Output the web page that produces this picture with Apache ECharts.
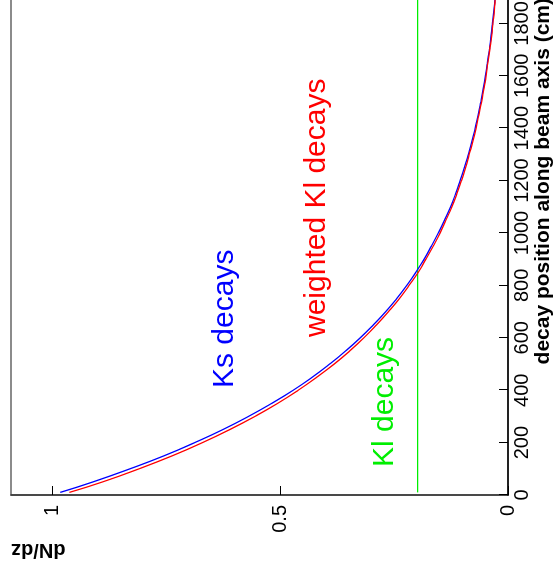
<!DOCTYPE html>
<html>
<head>
<meta charset="utf-8">
<title>dN/dz vs decay position</title>
<script src="https://cdn.jsdelivr.net/npm/echarts@6/dist/echarts.min.js"></script>
<style>
  html, body { margin: 0; padding: 0; background: #ffffff; overflow: hidden; }
  #page { width: 555px; height: 571px; position: relative; overflow: hidden; }
  /* the plot is laid out landscape and turned a quarter turn counter-clockwise */
  #chart {
    width: 571px; height: 555px; position: absolute; left: 0; top: 0;
    transform-origin: 0 0;
    transform: translateY(571px) rotate(-90deg);
  }
</style>
</head>
<body>
<div id="page"><div id="chart"></div></div>
<script>
// decay position along the beam axis (cm)
const positions = [10, 50, 100, 150, 200, 250, 300, 350, 400, 450, 500, 550, 600, 650, 700,
  750, 800, 850, 900, 950, 1000, 1050, 1100, 1150, 1200, 1250, 1300, 1350, 1400, 1450,
  1500, 1550, 1600, 1650, 1700, 1750, 1800, 1850, 1900, 1950, 2000];

// Ks decays
const ksDecays = [0.982, 0.910, 0.829, 0.754, 0.687, 0.625, 0.569, 0.518, 0.471, 0.429,
  0.391, 0.356, 0.324, 0.295, 0.268, 0.244, 0.222, 0.202, 0.184, 0.168,
  0.153, 0.139, 0.126, 0.115, 0.105, 0.0955, 0.087, 0.079, 0.072, 0.0655,
  0.0597, 0.0543, 0.0494, 0.045, 0.041, 0.0373, 0.034, 0.031, 0.0282, 0.0257, 0.0234];

// weighted Kl decays
const klWeighted = [0.962, 0.889, 0.809, 0.736, 0.670, 0.610, 0.555, 0.505, 0.460, 0.419,
  0.381, 0.347, 0.316, 0.288, 0.262, 0.238, 0.217, 0.197, 0.180, 0.164,
  0.149, 0.136, 0.123, 0.112, 0.102, 0.093, 0.085, 0.077, 0.070, 0.064,
  0.058, 0.053, 0.048, 0.044, 0.040, 0.036, 0.033, 0.030, 0.0275, 0.025, 0.0228];

// Kl decays (flat)
const klFlatPositions = [10, 2000];
const klFlat = [0.198, 0.198];

// axis ticks
const positionTicks = { min: 0, max: 2000, step: 200 };
const densityTicks = { min: 0, max: 1.09, step: 0.5 };

const pairs = (xs, ys) => xs.map((x, i) => [x, ys[i]]);

const FONT = '"Liberation Sans", Arial, Helvetica, sans-serif';

const chart = echarts.init(document.getElementById('chart'), null, { renderer: 'canvas' });

chart.setOption({
  backgroundColor: '#ffffff',
  animation: false,
  grid: {
    left: 76, right: -29, top: 11, bottom: 47,
    outerBoundsMode: 'none', containLabel: false,
    show: true, borderColor: '#666666', borderWidth: 1.5, backgroundColor: 'transparent'
  },
  xAxis: {
    type: 'value',
    min: positionTicks.min, max: positionTicks.max, interval: positionTicks.step,
    axisLine: { show: true, onZero: false, lineStyle: { color: '#000000', width: 1.5 } },
    axisTick: { show: true, inside: true, length: 9, lineStyle: { color: '#000000', width: 1 } },
    axisLabel: {
      color: '#000000', fontSize: 20, fontFamily: FONT, margin: 4, showMaxLabel: true,
      formatter: v => String(v)
    },
    splitLine: { show: false }
  },
  yAxis: {
    type: 'value',
    min: densityTicks.min, max: densityTicks.max, interval: densityTicks.step,
    axisLine: { show: true, onZero: false, lineStyle: { color: '#333333', width: 1.5 } },
    axisTick: { show: true, inside: true, length: 9, lineStyle: { color: '#000000', width: 1 } },
    axisLabel: {
      color: '#000000', fontSize: 20, fontFamily: FONT, margin: 10, showMaxLabel: false,
      formatter: v => String(v)
    },
    splitLine: { show: false }
  },
  series: [
    {
      name: 'Kl decays', type: 'line', data: pairs(klFlatPositions, klFlat),
      showSymbol: false, lineStyle: { color: '#00ee00', width: 1.3 }, z: 2
    },
    {
      name: 'Ks decays', type: 'line', data: pairs(positions, ksDecays),
      showSymbol: false, smooth: true, lineStyle: { color: '#0000ff', width: 1.3 }, z: 3
    },
    {
      name: 'weighted Kl decays', type: 'line', data: pairs(positions, klWeighted),
      showSymbol: false, smooth: true, lineStyle: { color: '#ff0000', width: 1.3 }, z: 4
    }
  ],
  graphic: [
    {
      type: 'text', x: 573, y: 543,
      style: {
        text: 'decay position along beam axis (cm)', fill: '#000000',
        font: 'bold 21px ' + FONT, align: 'right', verticalAlign: 'middle'
      }
    },
    {
      type: 'text', x: 21, y: 11, rotation: Math.PI / 2,
      style: {
        text: 'dN/dz', fill: '#000000',
        font: 'bold 20px ' + FONT, align: 'right', verticalAlign: 'middle'
      }
    },
    {
      type: 'text', x: 183, y: 225,
      style: { text: 'Ks decays', fill: '#0000ff', font: '30px ' + FONT, align: 'left', verticalAlign: 'middle' }
    },
    {
      type: 'text', x: 234, y: 317,
      style: { text: 'weighted Kl decays', fill: '#ff0000', font: '30px ' + FONT, align: 'left', verticalAlign: 'middle' }
    },
    {
      type: 'text', x: 104, y: 385,
      style: { text: 'Kl decays', fill: '#00ee00', font: '30px ' + FONT, align: 'left', verticalAlign: 'middle' }
    }
  ]
});
</script>
</body>
</html>
